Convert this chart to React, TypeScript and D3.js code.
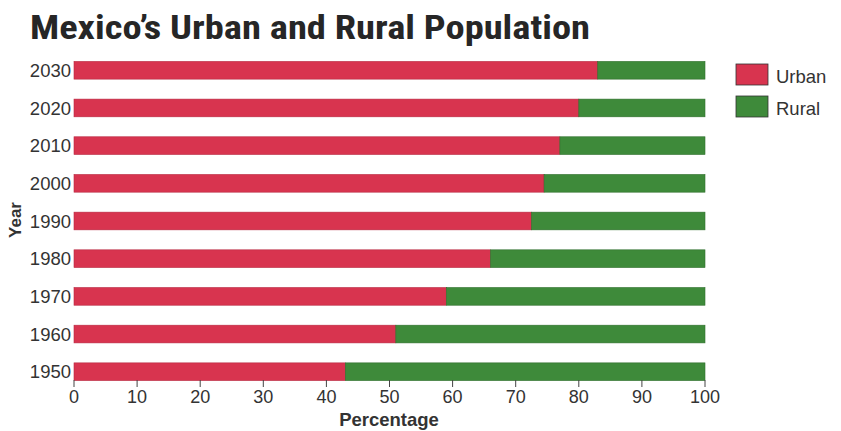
import React from "react";
import * as d3 from "d3";

const years = ["2030", "2020", "2010", "2000", "1990", "1980", "1970", "1960", "1950"];
const urban = [83, 80, 77, 74.5, 72.5, 66, 59, 51, 43];
const rural = urban.map((u) => 100 - u);
const xTicks = [0, 10, 20, 30, 40, 50, 60, 70, 80, 90, 100];
const seriesNames = ["Urban", "Rural"];
const seriesColors = ["#d8344f", "#3e8a3a"];

export default function App() {
  const W = 841, H = 431;
  const x = d3.scaleLinear().domain([0, 100]).range([74, 705]);
  const y = d3.scaleBand().domain(years).range([52, 390]).paddingInner(0.53).paddingOuter(0.25);
  const stacked = d3.stack<any>().keys(["urban", "rural"])(
    years.map((yr, i) => ({ year: yr, urban: urban[i], rural: rural[i] }))
  );
  const axisY = 380;
  return (
    <svg width={W} height={H} style={{ position: "absolute", left: 0, top: 0, background: "#fff" }}>
      <text x={30} y={39} textLength={560} lengthAdjust="spacingAndGlyphs" fontFamily="'Liberation Sans Narrow', 'Roboto Condensed', Arial" fontWeight="bold" fontSize={34} fill="#262626">
        Mexico’s Urban and Rural Population
      </text>
      {stacked.map((s, si) =>
        s.map((d, i) => (
          <rect key={si + "-" + i} x={x(d[0])} y={y(years[i])!} width={x(d[1]) - x(d[0])} height={y.bandwidth()}
            fill={seriesColors[si]} stroke={si === 0 ? "#b82a42" : "#2f6e2c"} strokeWidth={0.6} />
        ))
      )}
      {years.map((yr) => (
        <text key={yr} x={71} y={y(yr)! + y.bandwidth() / 2} dy="0.36em" textAnchor="end" fontFamily="'Liberation Sans', Arial" fontSize={18.5} fill="#333">
          {yr}
        </text>
      ))}
      <g>
        {xTicks.map((t) => (
          <g key={t}>
            <line x1={x(t)} x2={x(t)} y1={axisY} y2={axisY + 7} stroke="#444" strokeWidth={1} />
            <text x={x(t)} y={axisY + 23} textAnchor="middle" fontFamily="'Liberation Sans Narrow', Arial" fontSize={18} fill="#333">
              {t}
            </text>
          </g>
        ))}
      </g>
      <text x={389} y={426} textAnchor="middle" fontFamily="'Liberation Sans Narrow', Arial" fontWeight="bold" fontSize={18.5} fill="#333">
        Percentage
      </text>
      <text transform="translate(21,220) rotate(-90)" textAnchor="middle" fontFamily="'Liberation Sans', Arial" fontWeight="bold" fontSize={17} fill="#333">
        Year
      </text>
      {seriesNames.map((n, i) => (
        <g key={n}>
          <rect x={736} y={64 + i * 32} width={32} height={21} fill={seriesColors[i]} stroke="#333" strokeWidth={0.8} />
          <text x={776} y={76 + i * 32} dy="0.36em" fontFamily="'Liberation Sans', Arial" fontSize={18.5} fill="#333">
            {n}
          </text>
        </g>
      ))}
    </svg>
  );
}
